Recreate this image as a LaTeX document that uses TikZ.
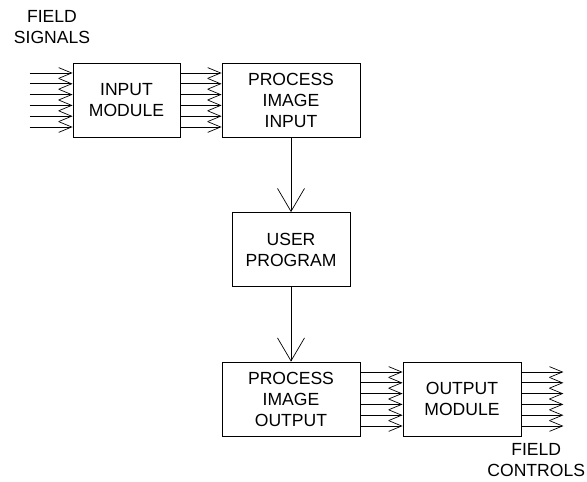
\documentclass[tikz,border=0pt]{standalone}
\usepackage{fontspec}
\setmainfont{Liberation Sans}
\usetikzlibrary{arrows.meta, positioning, calc}
\newcommand{\blkfont}{\fontsize{20}{23.9}\selectfont}

\begin{document}
\begin{tikzpicture}[
    blk/.style={draw=black, line width=0.9pt, minimum height=2.96cm, align=center, font=\blkfont},
    sig/.style={line width=0.8pt, -{Straight Barb[length=0.52cm, width=0.43cm, line width=0.8pt]}},
    flow/.style={line width=0.8pt, -{Straight Barb[length=0.92cm, width=1.08cm, line width=0.8pt]}},
    lbl/.style={align=center, inner sep=0pt, font=\blkfont}
]
    \useasboundingbox (0,0) rectangle (23.48,19.24);

    % --- Blocks ---
    \node[blk, minimum width=4.28cm] (inmod) at (5.06, 15.24) {INPUT\\MODULE};
    \node[blk, minimum width=5.52cm] (piin) at (11.64, 15.24) {PROCESS\\IMAGE\\INPUT};
    \node[blk, minimum width=4.72cm] (user) at (11.64, 9.26) {USER\\PROGRAM};
    \node[blk, minimum width=5.52cm] (piout) at (11.64, 3.28) {PROCESS\\IMAGE\\OUTPUT};
    \node[blk, minimum width=4.72cm] (outmod) at (18.48, 3.28) {OUTPUT\\MODULE};

    % --- Labels ---
    \node[lbl] (fsig) at (2.08, 18.16) {FIELD\\SIGNALS};
    \node[lbl] (fctl) at (21.45, 0.84) {FIELD\\CONTROLS};

    % --- Signal bundles ---
    \foreach \o in {-1.08, -0.648, -0.216, 0.216, 0.648, 1.08} {
        \draw[sig] ($(inmod.west)+(-1.72,\o)$) -- ($(inmod.west)+(0,\o)$);
        \draw[sig] ($(inmod.east)+(0,\o)$) -- ($(piin.west)+(0,\o)$);
        \draw[sig] ($(piout.east)+(0,\o)$) -- ($(outmod.west)+(0,\o)$);
        \draw[sig] ($(outmod.east)+(0,\o)$) -- ($(outmod.east)+(1.68,\o)$);
    }

    % --- Program flow ---
    \draw[flow] (piin) -- (user);
    \draw[flow] (user) -- (piout);
\end{tikzpicture}
\end{document}
